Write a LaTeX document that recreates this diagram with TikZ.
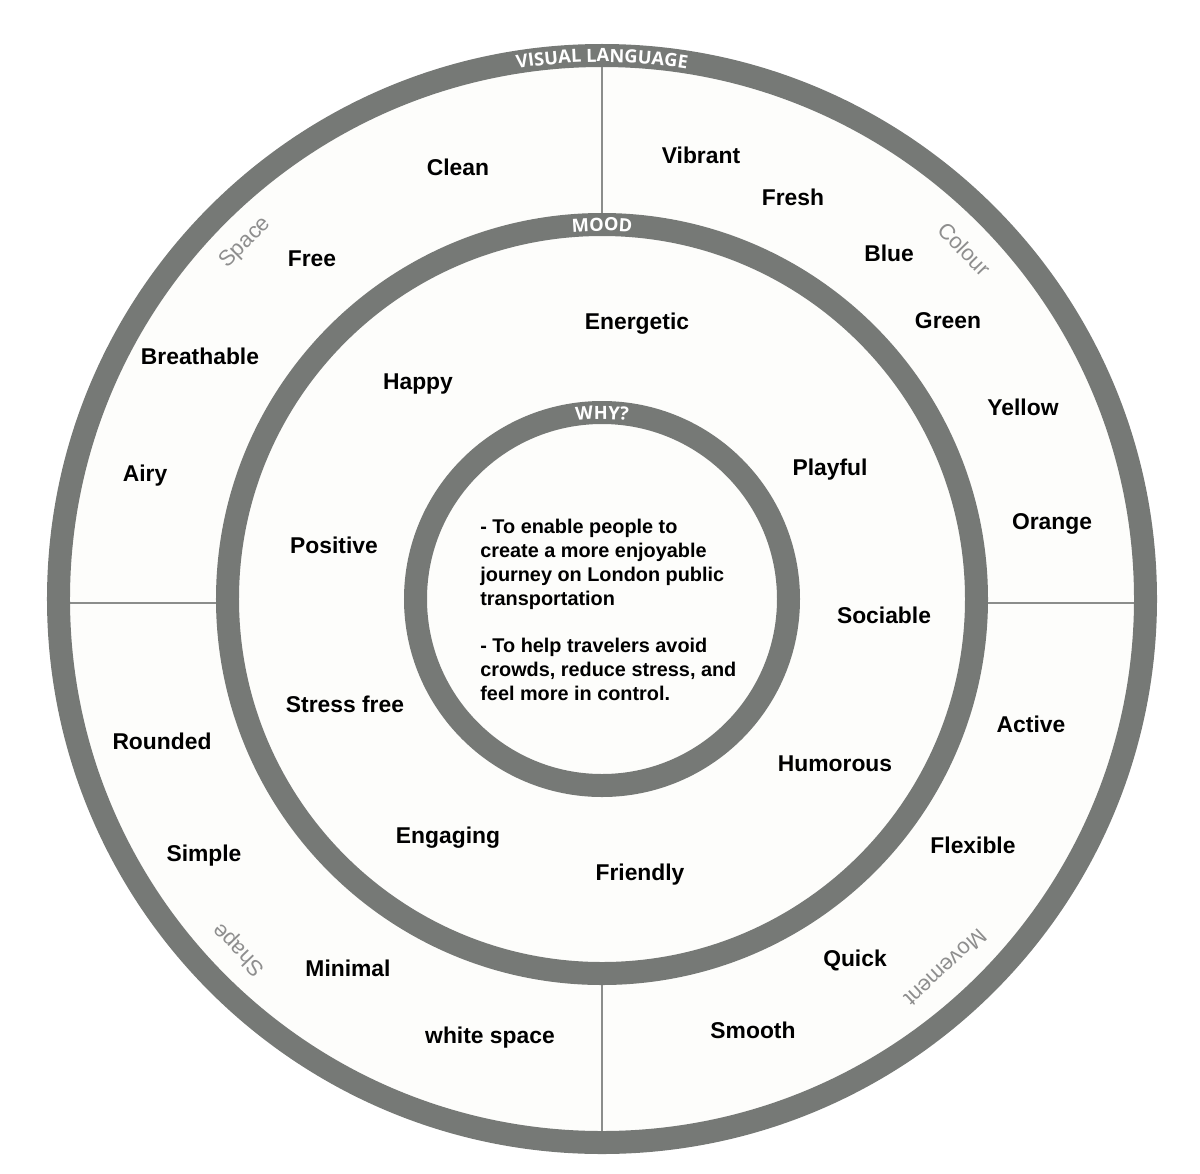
\documentclass[tikz,border=0pt]{standalone}
\usepackage{fontspec}
\setmainfont{Liberation Sans}
\newfontfamily\ringfont{Open Sans}
\usepackage{xcolor}
\usepackage{tikz}
\usetikzlibrary{decorations.text}

\definecolor{ringgray}{HTML}{767976}
\definecolor{discfill}{HTML}{FDFDFB}
\definecolor{catgray}{HTML}{8E8E8E}

\begin{document}
\begin{tikzpicture}[
  ring/.style={draw=ringgray, line width=4.6mm},
  word/.style={font=\fontsize{13}{15}\selectfont\bfseries, inner sep=0pt,
               text height=9.4pt, text depth=0pt},
  cat/.style={font=\fontsize{12.5}{14}\selectfont, text=catgray, inner sep=0pt},
  sep/.style={draw=ringgray!85, line width=1pt},
  ringlbl/.style={decorate, decoration={text along path, text align=center,
                  text={|\color{white}\ringfont\bfseries\fontsize{10.4}{12}\selectfont|#1}}},
]
\useasboundingbox (-12.04,11.98) rectangle (11.96,-11.48);
\coordinate (O) at (0,0);
% Disc and dividers
\fill[discfill] (O) circle[radius=10.87];
\coordinate (vt1) at (90:10.7);  \coordinate (vt2) at (90:7.6);
\coordinate (vb1) at (270:10.7); \coordinate (vb2) at (270:7.6);
\coordinate (hl1) at (-10.7,-0.08); \coordinate (hl2) at (-7.6,-0.08);
\coordinate (hr1) at (7.6,-0.08);   \coordinate (hr2) at (10.7,-0.08);
\draw[sep] (vt1) -- (vt2);
\draw[sep] (vb1) -- (vb2);
\draw[sep] (hl1) -- (hl2);
\draw[sep] (hr1) -- (hr2);
% Rings
\draw[ring] (O) circle[radius=10.87];
\draw[ring] (O) circle[radius=7.49];
\draw[ring] (O) circle[radius=3.73];
% Ring labels
\path[ringlbl={VISUAL LANGUAGE}] (105:10.74) arc[start angle=105, end angle=75, radius=10.74];
\path[ringlbl={MOOD}] (105:7.36) arc[start angle=105, end angle=75, radius=7.36];
\path[ringlbl={WHY?}] (115:3.6) arc[start angle=115, end angle=65, radius=3.6];
% Quarter labels
\node[cat, rotate=45]  (space) at (135:10.08) {Space};
\node[cat, rotate=-46] (colour) at (44:10.08) {Colour};
\node[cat, rotate=134] (shape) at (224:10.08) {Shape};
\node[cat, rotate=223] (movement) at (313:10.08) {Movement};
% Visual language (outer ring)
\node[word] (clean)    at (-2.88, 8.64) {Clean};
\node[word] (vibrant)  at (1.98, 8.88)  {Vibrant};
\node[word] (fresh)    at (3.82, 8.04)  {Fresh};
\node[word] (free)     at (-5.80, 6.82) {Free};
\node[word] (blue)     at (5.74, 6.92)  {Blue};
\node[word] (green)    at (6.92, 5.58)  {Green};
\node[word] (breath)   at (-8.04, 4.86) {Breathable};
\node[word] (yellow)   at (8.42, 3.84)  {Yellow};
\node[word] (airy)     at (-9.14, 2.52) {Airy};
\node[word] (orange)   at (9.00, 1.56)  {Orange};
\node[word] (active)   at (8.58, -2.50) {Active};
\node[word] (rounded)  at (-8.80, -2.84) {Rounded};
\node[word] (flexible) at (7.42, -4.92) {Flexible};
\node[word] (simple)   at (-7.96, -5.08) {Simple};
\node[word] (quick)    at (5.06, -7.18) {Quick};
\node[word] (minimal)  at (-5.08, -7.38) {Minimal};
\node[word] (smooth)   at (3.02, -8.62) {Smooth};
\node[word] (white)    at (-2.24, -8.72) {white space};
% Mood (middle ring)
\node[word] (energetic) at (0.70, 5.56)  {Energetic};
\node[word] (happy)     at (-3.68, 4.36) {Happy};
\node[word] (playful)   at (4.56, 2.64)  {Playful};
\node[word] (positive)  at (-5.36, 1.08) {Positive};
\node[word] (sociable)  at (5.64, -0.32) {Sociable};
\node[word] (stress)    at (-5.14, -2.10) {Stress free};
\node[word] (humorous)  at (4.66, -3.28) {Humorous};
\node[word] (engaging)  at (-3.08, -4.72) {Engaging};
\node[word] (friendly)  at (0.76, -5.46) {Friendly};
% Why (centre)
\node[align=left, anchor=west, inner sep=0pt,
      font=\fontsize{11.3}{13.6}\selectfont\bfseries] (why) at (-2.44,-0.22)
  {- To enable people to\\create a more enjoyable\\journey on London public\\transportation\\[13.6pt]
   - To help travelers avoid\\crowds, reduce stress, and\\feel more in control.};
\end{tikzpicture}
\end{document}
